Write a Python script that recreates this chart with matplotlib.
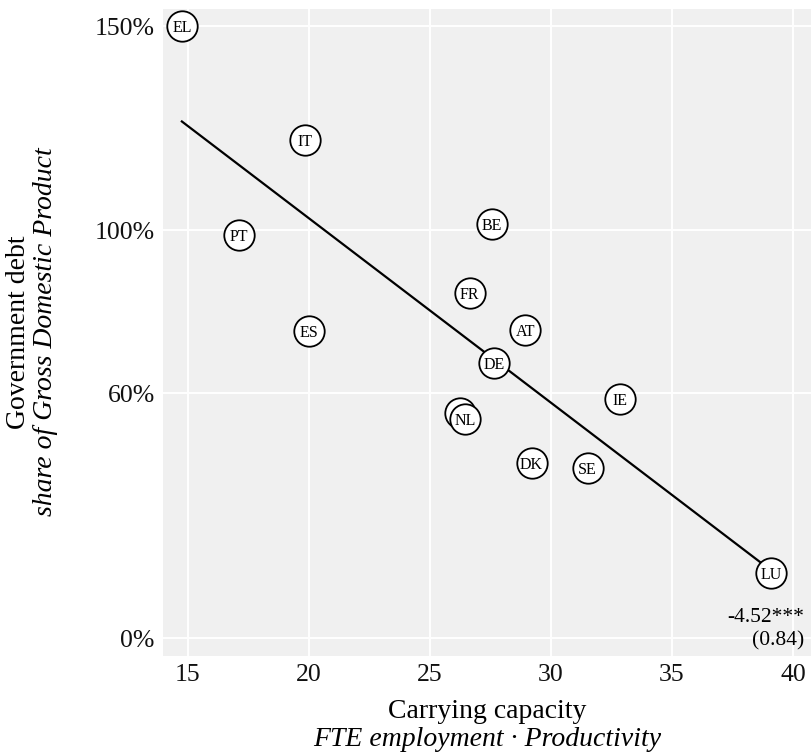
import matplotlib
matplotlib.use("Agg")
import matplotlib.pyplot as plt
import numpy as np

# country codes, carrying capacity (x) and government debt in % of GDP (y)
countries = ["EL", "PT", "IT", "ES", "BE", "FR", "AT", "DE", "IE", "", "NL", "DK", "SE", "LU"]
capacity = [14.75, 17.12, 19.83, 20.0, 27.57, 26.65, 28.95, 27.66, 32.85, 26.24, 26.47, 29.2, 31.52, 39.09]
debt = [150.0, 98.9, 122.1, 75.2, 101.6, 84.6, 75.5, 67.5, 58.5, 55.2, 53.8, 42.8, 41.6, 16.0]

# regression line
slope = -4.52
slope_se = 0.84
intercept = 193.3

xticks = [15, 20, 25, 30, 35, 40]
yticks = [0, 60, 100, 150]
ytick_labels = ["0%", "60%", "100%", "150%"]

plt.rcParams["font.family"] = ["Liberation Serif", "DejaVu Serif"]

W, H = 812, 756
fig = plt.figure(figsize=(W / 100, H / 100), dpi=100)
ax = fig.add_axes([163 / W, 1 - 656 / H, 1 - 163 / W, (656 - 9) / H])
ax.set_facecolor("#f0f0f0")
for s in ax.spines.values():
    s.set_visible(False)

ax.set_xlim(13.97, 40.79)
ax.set_ylim(-4.4, 154.2)
ax.set_xticks(xticks)
ax.set_yticks(yticks)
ax.set_yticklabels(ytick_labels)
ax.tick_params(length=0, labelsize=18.5, pad=6, colors="#111111")
ax.grid(True, color="white", linewidth=1.4)
ax.set_axisbelow(True)

xs = np.array([min(capacity), max(capacity)])
ax.plot(xs, intercept + slope * xs, color="black", linewidth=1.6, zorder=3)

for i, (c, x, y) in enumerate(zip(countries, capacity, debt)):
    z = 4 + 2 * i
    ax.scatter([x], [y], s=480, facecolor="white", edgecolor="black",
               linewidth=1.3, zorder=z, clip_on=False)
    ax.text(x, y, c, ha="center", va="center_baseline", fontsize=11.5, zorder=z + 1)

ax.text(40.45, 2.1, f"{slope:.2f}***\n({slope_se:.2f})", ha="right", va="center",
        fontsize=15.5, linespacing=1.3)

# axis titles
fig.text(487 / W, 1 - 711 / H, "Carrying capacity", ha="center", va="center", fontsize=20)
fig.text(487 / W, 1 - 739 / H, "FTE employment · Productivity", ha="center", va="center",
         fontsize=20, style="italic")
fig.text(19 / W, 1 - 332 / H, "Government debt", ha="center", va="center", fontsize=20,
         rotation=90)
fig.text(46 / W, 1 - 332 / H, "share of Gross Domestic Product", ha="center", va="center",
         fontsize=20, rotation=90, style="italic")

fig.savefig("out.png", dpi=100)
